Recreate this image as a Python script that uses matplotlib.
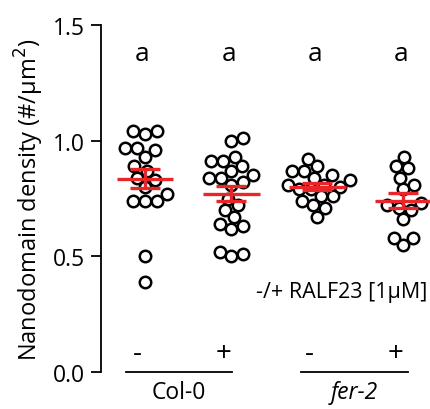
import numpy as np
import matplotlib
matplotlib.use("Agg")
from matplotlib import pyplot as plt

plt.rcParams['font.family'] = ['Open Sans', 'DejaVu Sans']

# nanodomain density per cell (#/um2)
col0_minus = [1.04, 1.03, 1.04, 0.97, 0.96, 0.97, 0.93, 0.89, 0.87,
              0.84, 0.83, 0.80, 0.74, 0.74, 0.74, 0.77, 0.50, 0.39]
col0_plus = [1.00, 1.01, 0.93, 0.91, 0.89, 0.91, 0.87, 0.85, 0.84, 0.81, 0.82,
             0.84, 0.75, 0.72, 0.70, 0.67, 0.63, 0.62, 0.64, 0.52, 0.50, 0.51]
fer2_minus = [0.92, 0.89, 0.87, 0.87, 0.85, 0.84, 0.83, 0.81, 0.79,
              0.76, 0.74, 0.76, 0.72, 0.71, 0.67, 0.80, 0.81, 0.79]
fer2_plus = [0.93, 0.88, 0.89, 0.84, 0.81, 0.79, 0.73, 0.71, 0.66,
             0.58, 0.55, 0.58, 0.72, 0.70]

groups = [col0_minus, col0_plus, fer2_minus, fer2_plus]
treatment = ['-', '+', '-', '+']
letters = ['a', 'a', 'a', 'a']
genotypes = ['Col-0', 'fer-2']

RED = '#e8262a'
PX_X = 86.0   # pixels per x unit
PX_Y = 231.0  # pixels per y unit
DIAM = 12.0   # marker spacing in pixels


def swarm(values, center):
    # simple beeswarm: put each point at the free x closest to the center
    ys = np.array(values) * PX_Y
    order = np.argsort(ys)
    placed = []
    xs = np.zeros(len(ys))
    for i in order:
        cands = [0.0]
        for (xj, yj) in placed:
            dy = abs(ys[i] - yj)
            if dy < DIAM:
                dx = np.sqrt(DIAM ** 2 - dy ** 2)
                cands += [xj + dx, xj - dx]
        cands.sort(key=abs)
        for c in cands:
            ok = True
            for (xj, yj) in placed:
                if (c - xj) ** 2 + (ys[i] - yj) ** 2 < DIAM ** 2 - 1e-6:
                    ok = False
                    break
            if ok:
                xs[i] = c
                break
        placed.append((xs[i], ys[i]))
    return center + xs / PX_X


fig = plt.figure(figsize=(4.3, 4.1), dpi=100)
ax = fig.add_axes([101 / 430, 37 / 410, 329 / 430, 347 / 410])

for k, vals in enumerate(groups):
    pos = k + 1
    x = swarm(vals, pos)
    ax.scatter(x, vals, s=68, facecolors='white', edgecolors='black',
               linewidths=1.8, zorder=2, clip_on=False)
    m = np.mean(vals)
    se = np.std(vals, ddof=1) / np.sqrt(len(vals))
    ax.plot([pos - 0.33, pos + 0.33], [m, m], color=RED, lw=2.4, zorder=3,
            solid_capstyle='butt')
    ax.errorbar(pos, m, yerr=se, color=RED, elinewidth=2.4, capsize=10.5,
                capthick=2.4, zorder=3)
    ax.text(pos - 0.03, 1.375, letters[k], ha='center', va='center', fontsize=19)
    ax.text(pos - 0.09, 0.082, treatment[k], ha='center', va='center', fontsize=20)

ax.text(4.28, 0.35, '-/+ RALF23 [1\u00b5M]', ha='right', va='center', fontsize=15.5)

# genotype underlines and labels
spans = [(-0.22, 0.01), (-0.19, 0.05)]
for g, name in enumerate(genotypes):
    left = 1 + 2 * g + spans[g][0]
    right = 2 + 2 * g + spans[g][1]
    ax.plot([left, right], [0, 0], color='black', lw=1.3, clip_on=False)
    ax.text((left + right) / 2, -0.085, name, ha='center', va='center',
            fontsize=16.5, style='italic' if g == 1 else 'normal')

ax.set_xlim(0.488, 4.31)
ax.set_ylim(0, 1.5)
ax.set_yticks([0.0, 0.5, 1.0, 1.5])
ax.set_yticklabels(['0.0', '0.5', '1.0', '1.5'], fontsize=16.5)
ax.set_xticks([])
ax.tick_params(axis='y', direction='out', length=7.5, width=1.3, pad=4)
for s in ['top', 'right', 'bottom']:
    ax.spines[s].set_visible(False)
ax.spines['left'].set_linewidth(1.3)
ax.set_ylabel('Nanodomain density (#/\u00b5m$^2$)', fontsize=17, labelpad=5)

fig.savefig('out.png', dpi=100)
